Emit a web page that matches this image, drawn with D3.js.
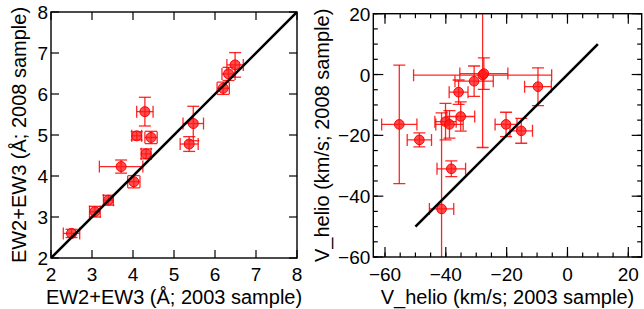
<!DOCTYPE html>
<html><head><meta charset="utf-8">
<script src="https://cdn.jsdelivr.net/npm/d3@7"></script>
<style>body{margin:0;background:#fff}svg{display:block}text{font-family:"Liberation Sans",Arial,sans-serif;fill:#000}</style>
</head><body>
<svg id="c" width="644" height="309"></svg>
<script>
// Left panel data: EW2+EW3
const ew03 = [2.50, 3.07, 3.40, 3.71, 4.02, 4.09, 4.29, 4.32, 4.44, 5.37, 5.47, 6.20, 6.33, 6.49];
const ew08 = [2.60, 3.13, 3.41, 4.23, 3.86, 4.98, 5.57, 4.54, 4.94, 4.78, 5.28, 6.14, 6.49, 6.71];
const ew03err = [0.20, 0.13, 0.12, 0.53, 0.15, 0.12, 0.20, 0.12, 0.15, 0.22, 0.25, 0.15, 0.16, 0.20];
const ew08err = [0.10, 0.13, 0.12, 0.16, 0.15, 0.10, 0.35, 0.12, 0.15, 0.18, 0.42, 0.15, 0.16, 0.30];
const ewTicks = [2, 3, 4, 5, 6, 7, 8];
const ewLine = [2, 8];

// Right panel data: V_helio
const v03 = [-55.3, -48.7, -41.4, -40.1, -38.8, -38.2, -35.8, -35.1, -30.7, -27.9, -27.5, -20.2, -15.2, -9.7];
const v08 = [-16.4, -21.5, -44.2, -15.5, -16.4, -31.0, -5.8, -13.8, -2.2, -0.2, 0.3, -16.4, -18.5, -4.0];
const v03err = [5.8, 4.0, 4.0, 3.5, 4.5, 4.7, 3.1, 4.6, 6.3, 22.7, 7.9, 3.6, 3.7, 4.4];
const v08err = [19.5, 2.3, 31.6, 6.0, 4.5, 2.6, 4.0, 4.8, 5.0, 23.8, 5.2, 4.0, 4.1, 6.2];
const vMajor = [-60, -40, -20, 0, 20];
const vMinor = d3.range(-60, 25, 5);
const vLine = [-50, 10];

const svg = d3.select("#c");
const RED = "#ff0000";

function panel(o) {
  const g = svg.append("g");
  const x = o.x, y = o.y;
  const [x0, x1] = x.range(), [y1, y0] = y.range();
  const clipId = "clip" + o.id;
  g.append("clipPath").attr("id", clipId).append("rect")
    .attr("x", x0).attr("y", y0).attr("width", x1 - x0).attr("height", y1 - y0);
  const pg = g.append("g").attr("clip-path", `url(#${clipId})`);
  const cap = 6;
  const pts = o.xs.map((v, i) => ({x: v, y: o.ys[i], ex: o.exs[i], ey: o.eys[i]}));
  const eb = pg.append("g").attr("stroke", RED).attr("stroke-width", 1.3).attr("fill", "none").attr("stroke-opacity", 0.85);
  pts.forEach(p => {
    const cx = x(p.x), cy = y(p.y);
    const xl = x(p.x - p.ex), xr = x(p.x + p.ex), yt = y(p.y + p.ey), yb = y(p.y - p.ey);
    eb.append("line").attr("x1", xl).attr("x2", xr).attr("y1", cy).attr("y2", cy);
    eb.append("line").attr("x1", xl).attr("x2", xl).attr("y1", cy - cap).attr("y2", cy + cap);
    eb.append("line").attr("x1", xr).attr("x2", xr).attr("y1", cy - cap).attr("y2", cy + cap);
    eb.append("line").attr("x1", cx).attr("x2", cx).attr("y1", yt).attr("y2", yb);
    eb.append("line").attr("x1", cx - cap).attr("x2", cx + cap).attr("y1", yt).attr("y2", yt);
    eb.append("line").attr("x1", cx - cap).attr("x2", cx + cap).attr("y1", yb).attr("y2", yb);
  });
  pg.append("g").selectAll("circle").data(pts).join("circle")
    .attr("cx", d => x(d.x)).attr("cy", d => y(d.y)).attr("r", o.r)
    .attr("fill", "#ff1a1a").attr("fill-opacity", 0.78)
    .attr("stroke", RED).attr("stroke-width", 1);
  pg.append("line")
    .attr("x1", x(o.line[0])).attr("y1", y(o.line[0]))
    .attr("x2", x(o.line[1])).attr("y2", y(o.line[1]))
    .attr("stroke", "#000").attr("stroke-width", 2.6);
  // ticks
  const tk = g.append("g").attr("stroke", "#000").attr("stroke-width", 1.2);
  const drawT = (vals, L) => {
    vals.forEach(v => {
      tk.append("line").attr("x1", x(v)).attr("x2", x(v)).attr("y1", y1).attr("y2", y1 - L);
      tk.append("line").attr("x1", x(v)).attr("x2", x(v)).attr("y1", y0).attr("y2", y0 + L);
    });
  };
  const drawTy = (vals, L) => {
    vals.forEach(v => {
      tk.append("line").attr("y1", y(v)).attr("y2", y(v)).attr("x1", x0).attr("x2", x0 + L);
      tk.append("line").attr("y1", y(v)).attr("y2", y(v)).attr("x1", x1).attr("x2", x1 - L);
    });
  };
  if (o.xMinor) drawT(o.xMinor, 4.5);
  if (o.yMinor) drawTy(o.yMinor, 4.5);
  drawT(o.xMajor, o.majL);
  drawTy(o.yMajor, o.majL);
  g.append("rect").attr("x", x0).attr("y", y0).attr("width", x1 - x0).attr("height", y1 - y0)
    .attr("fill", "none").attr("stroke", "#000").attr("stroke-width", 1.4);
  const fmt = v => (v < 0 ? "\u2212" + Math.abs(v) : String(v));
  g.append("g").selectAll("text").data(o.xMajor).join("text")
    .attr("x", d => x(d)).attr("y", 281).attr("text-anchor", "middle")
    .attr("font-size", 19).text(fmt);
  g.append("g").selectAll("text").data(o.yMajor).join("text")
    .attr("x", x0 - 3).attr("y", d => y(d) + 7).attr("text-anchor", "end")
    .attr("font-size", 19).text(fmt);
  g.append("text").attr("x", (x0 + x1) / 2).attr("y", 303.5).attr("text-anchor", "middle")
    .attr("font-size", 20).text(o.xTitle);
  g.append("text").attr("transform", `translate(${o.yTitleX},${(y0 + y1) / 2}) rotate(-90)`)
    .attr("text-anchor", "middle").attr("font-size", 20).text(o.yTitle);
}

panel({
  id: "L",
  x: d3.scaleLinear().domain([2, 8]).range([51, 297]),
  y: d3.scaleLinear().domain([2, 8]).range([258, 12]),
  xs: ew03, ys: ew08, exs: ew03err, eys: ew08err,
  xMajor: ewTicks, yMajor: ewTicks, majL: 8, r: 5,
  line: ewLine,
  xTitle: "EW2+EW3 (Å; 2003 sample)",
  yTitle: "EW2+EW3 (Å; 2008 sample)",
  yTitleX: 26
});

const vx = d3.scaleLinear().domain([-60, 20]).range([385, 628.3]);
panel({
  id: "R",
  x: vx.copy().domain([vx.invert(373.3), vx.invert(641.7)]).range([373.3, 641.7]),
  y: d3.scaleLinear().domain([-60, 20]).range([257, 13.7]),
  xs: v03, ys: v08, exs: v03err, eys: v08err,
  xMajor: vMajor, yMajor: vMajor, xMinor: vMinor, yMinor: vMinor, majL: 10, r: 4.8,
  line: vLine,
  xTitle: "V_helio (km/s; 2003 sample)",
  yTitle: "V_helio (km/s; 2008 sample)",
  yTitleX: 329
});
</script>
</body></html>
